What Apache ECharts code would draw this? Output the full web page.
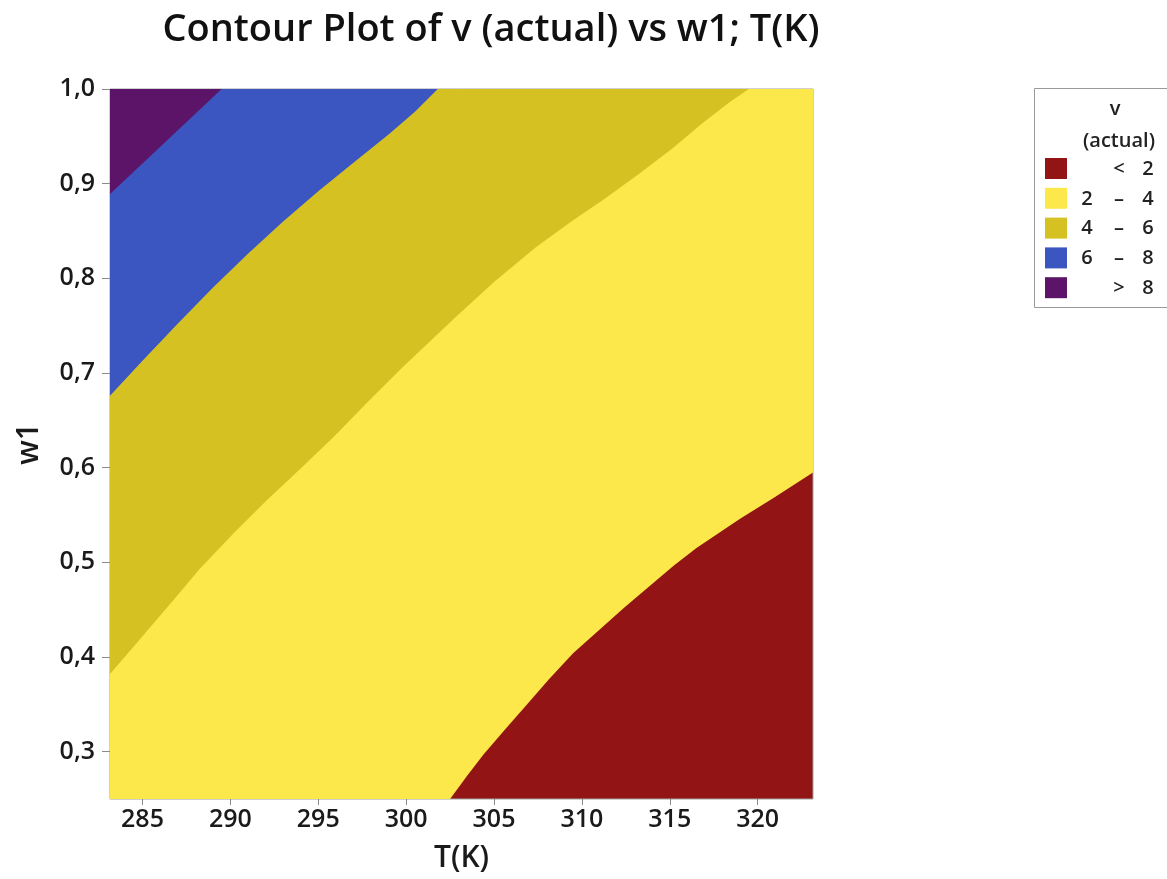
<!DOCTYPE html>
<html>
<head>
<meta charset="utf-8">
<script src="https://cdn.jsdelivr.net/npm/echarts@6/dist/echarts.min.js"></script>
<style>
html,body{margin:0;padding:0;background:#fff;}
#chart{width:1167px;height:879px;}
</style>
</head>
<body>
<div id="chart"></div>
<script>
// ---- data ----
const T_MIN = 283.15, T_MAX = 323.15;
const W_MIN = 0.25, W_MAX = 1.0;
const xTicks = [285, 290, 295, 300, 305, 310, 315, 320];
const yTicks = [0.3, 0.4, 0.5, 0.6, 0.7, 0.8, 0.9, 1.0];

// contour boundaries [T, w1]
const contour2 = [[302.5,0.25],[303.45,0.274],[304.4,0.297],[305.7,0.325],[306.7,0.346],[308.1,0.376],[309.5,0.404],[312.4,0.452],[315.2,0.496],[316.5,0.515],[319.0,0.546],[320.9,0.568],[323.15,0.595]];
const contour4 = [[283.15,0.382],[284.5,0.411],[286.75,0.460],[288.3,0.494],[290.2,0.531],[292.1,0.566],[294.0,0.599],[295.9,0.633],[297.8,0.669],[299.8,0.706],[302.7,0.757],[305.0,0.796],[307.4,0.833],[309.4,0.860],[311.3,0.884],[313.3,0.911],[315.2,0.938],[316.8,0.963],[318.4,0.986],[319.5,1.0]];
const contour6 = [[283.15,0.676],[285.0,0.713],[287.0,0.752],[289.0,0.790],[291.0,0.826],[293.0,0.860],[295.0,0.892],[297.0,0.922],[299.0,0.952],[300.5,0.976],[301.8,1.0]];
const contour8 = [[283.15,0.889],[286.3,0.944],[289.5,1.0]];

const legendTitle = ['v', '(actual)'];
const legendRows = [['', '<', '2'], ['2', '–', '4'], ['4', '–', '6'], ['6', '–', '8'], ['', '>', '8']];
const bandColors = ['#921414', '#FDE84B', '#D5C222', '#3B56C0', '#5B1468'];

// ---- chart ----
const chart = echarts.init(document.getElementById('chart'));
const FONT = '"Open Sans"';

function band(data, color, closeTop) {
  const d = data.slice();
  if (closeTop) d.push([T_MAX, W_MAX]);
  return {
    type: 'line', data: d, showSymbol: false, symbol: 'none', silent: true,
    lineStyle: { width: 0, opacity: 0 },
    areaStyle: { color: color, opacity: 1, origin: 'end' },
    emphasis: { disabled: true }, clip: true, animation: false
  };
}

const graphics = [{
  type: 'text', x: 491, y: 11,
  style: { text: 'Contour Plot of v (actual) vs w1; T(K)', font: '600 38px ' + FONT, fill: '#111', textAlign: 'center' }
}, {
  type: 'rect', shape: { x: 1034.5, y: 88.5, width: 160, height: 219 },
  style: { fill: '#fff', stroke: '#9a9a9a', lineWidth: 1 }
}, {
  type: 'text', x: 1115, y: 109, style: { text: legendTitle[0], font: '600 20px ' + FONT, fill: '#222', textAlign: 'center', textVerticalAlign: 'middle' }
}, {
  type: 'text', x: 1119, y: 141, style: { text: legendTitle[1], font: '600 20px ' + FONT, fill: '#222', textAlign: 'center', textVerticalAlign: 'middle' }
}];
legendRows.forEach((r, i) => {
  const y0 = 158 + i * 29.8;
  graphics.push({ type: 'rect', shape: { x: 1045, y: y0, width: 22, height: 21 }, style: { fill: bandColors[i] } });
  const f = '600 20px ' + FONT;
  graphics.push({ type: 'text', x: 1087, y: y0 + 11, style: { text: r[0], font: f, fill: '#222', textAlign: 'center', textVerticalAlign: 'middle' } });
  graphics.push({ type: 'text', x: 1119, y: y0 + 11, style: { text: r[1], font: f, fill: '#222', textAlign: 'center', textVerticalAlign: 'middle' } });
  graphics.push({ type: 'text', x: 1148, y: y0 + 11, style: { text: r[2], font: f, fill: '#222', textAlign: 'center', textVerticalAlign: 'middle' } });
});

const comma = v => (Math.round(v * 10) / 10).toFixed(1).replace('.', ',');

chart.setOption({
  animation: false,
  backgroundColor: '#fff',
  grid: { left: 110, right: 354, top: 89, bottom: 80, show: true, backgroundColor: bandColors[0], borderColor: '#a0a0a0', borderWidth: 1, containLabel: false },
  xAxis: {
    type: 'value', min: T_MIN, max: T_MAX,
    name: 'T(K)', nameLocation: 'middle', nameGap: 44,
    nameTextStyle: { fontFamily: 'Open Sans', fontSize: 30, fontWeight: 600, color: '#1a1a1a' },
    axisLine: { show: false },
    axisTick: { show: true, length: 6, lineStyle: { color: '#8a8a8a' }, customValues: xTicks },
    axisLabel: { fontFamily: 'Open Sans', fontSize: 25, fontWeight: 600, color: '#1a1a1a', margin: 8, customValues: xTicks, formatter: v => String(Math.round(v)) },
    splitLine: { show: false }
  },
  yAxis: {
    type: 'value', min: W_MIN, max: W_MAX,
    name: 'w1', nameLocation: 'middle', nameGap: 66, nameRotate: 90,
    nameTextStyle: { fontFamily: 'Open Sans', fontSize: 30, fontWeight: 600, color: '#1a1a1a' },
    axisLine: { show: false },
    axisTick: { show: true, length: 8, lineStyle: { color: '#8a8a8a' }, customValues: yTicks },
    axisLabel: { fontFamily: 'Open Sans', fontSize: 25, fontWeight: 600, color: '#1a1a1a', margin: 15, customValues: yTicks, formatter: comma },
    splitLine: { show: false }
  },
  series: [
    band([[T_MIN, W_MIN]].concat(contour2), bandColors[1], false),
    band(contour4, bandColors[2], true),
    band(contour6, bandColors[3], true),
    band(contour8, bandColors[4], true)
  ],
  graphic: graphics
});
</script>
</body>
</html>
